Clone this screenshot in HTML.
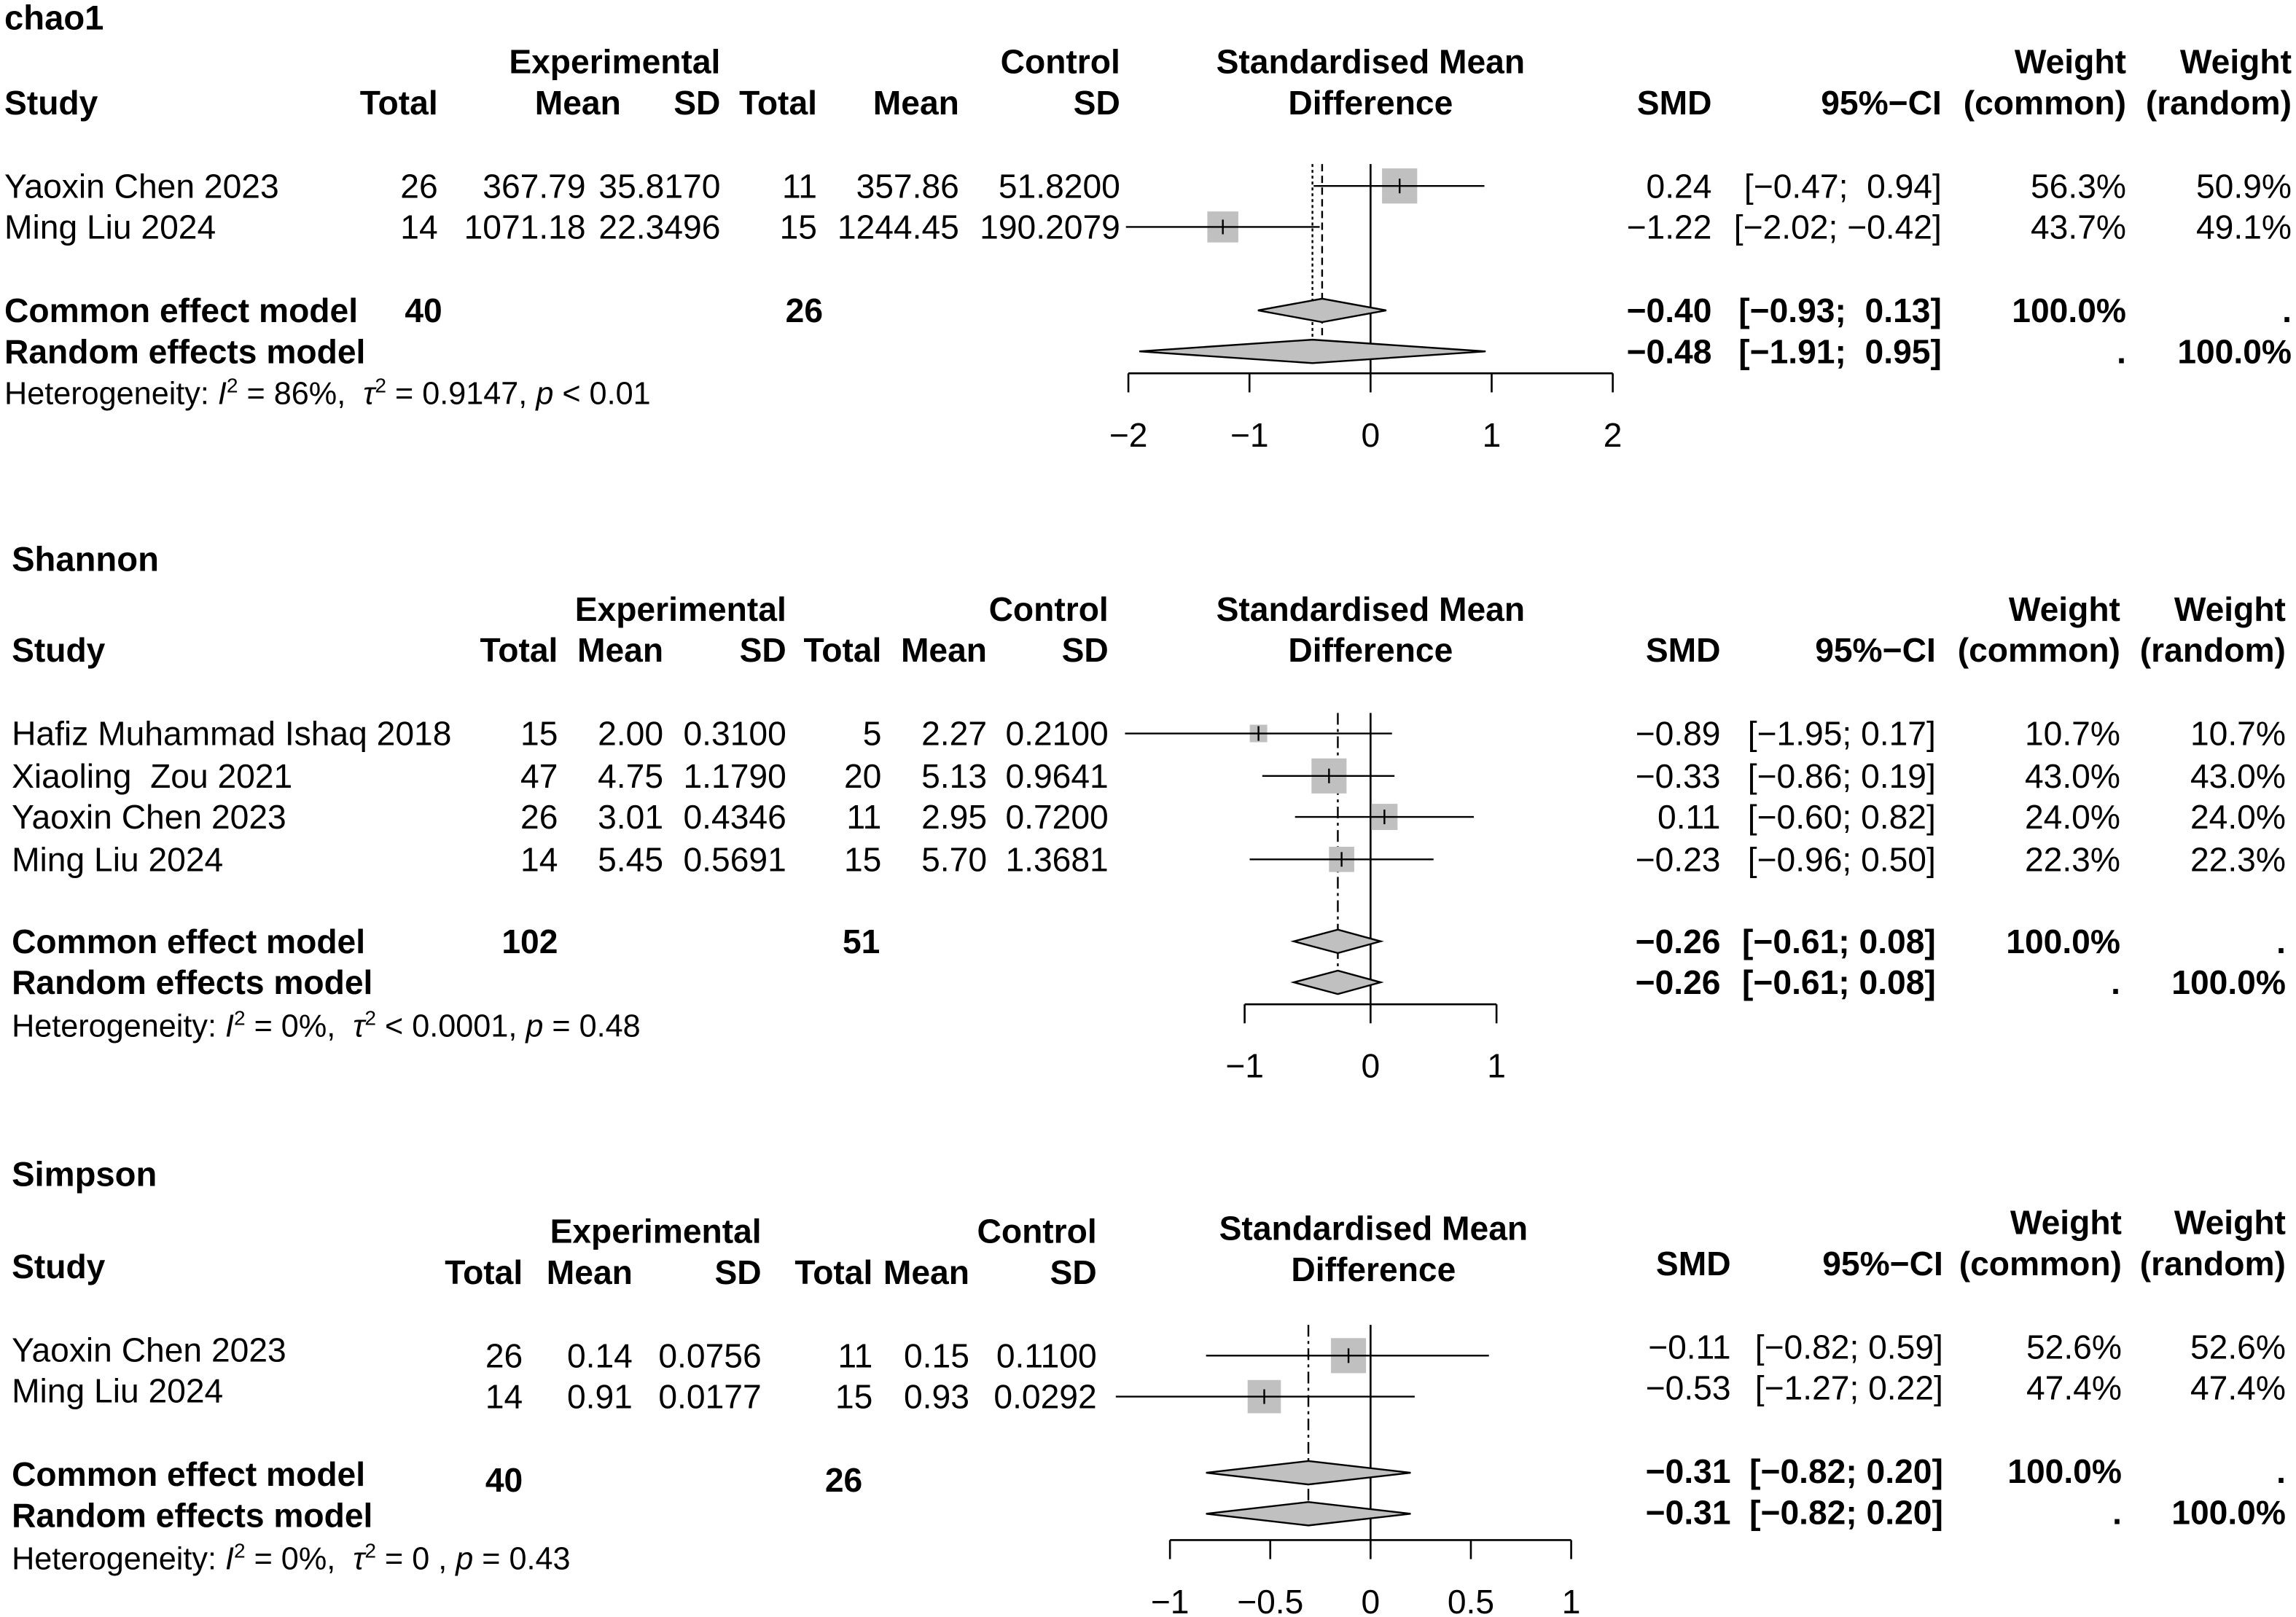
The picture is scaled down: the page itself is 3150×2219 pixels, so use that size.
<!DOCTYPE html>
<html><head><meta charset="utf-8"><style>
html,body{margin:0;padding:0;background:#fff}
svg{display:block}
text{font-family:"Liberation Sans",Arial,sans-serif;font-size:23px;fill:#000;white-space:pre}
.b{font-weight:bold;font-size:23.5px}
.h{font-size:21.5px}
</style></head><body>
<svg id="svg" xmlns="http://www.w3.org/2000/svg" width="3150" height="2219" viewBox="0 0 1568 1104.5">
<g id="txt">
<!-- chao1 -->
<text x="3" y="20" class="b">chao1</text>
<g class="b" text-anchor="end">
<text x="492" y="50">Experimental</text><text x="765" y="50">Control</text>
<text x="936" y="50" text-anchor="middle">Standardised Mean</text><text x="936" y="78" text-anchor="middle">Difference</text>
<text x="1452" y="50">Weight</text><text x="1565" y="50">Weight</text>
<text x="3" y="78" text-anchor="start">Study</text><text x="299" y="78">Total</text><text x="424" y="78">Mean</text><text x="492" y="78">SD</text>
<text x="558" y="78">Total</text><text x="655" y="78">Mean</text><text x="765" y="78">SD</text>
<text x="1169" y="78">SMD</text><text x="1326" y="78">95%−CI</text><text x="1452" y="78">(common)</text><text x="1565" y="78">(random)</text>
</g>
<g text-anchor="end">
<text x="3" y="135" text-anchor="start">Yaoxin Chen 2023</text><text x="299" y="135">26</text><text x="400" y="135">367.79</text><text x="492" y="135">35.8170</text><text x="558" y="135">11</text><text x="655" y="135">357.86</text><text x="765" y="135">51.8200</text><text x="1169" y="135">0.24</text><text x="1326" y="135">[−0.47;  0.94]</text><text x="1452" y="135">56.3%</text><text x="1565" y="135">50.9%</text>
<text x="3" y="163" text-anchor="start">Ming Liu 2024</text><text x="299" y="163">14</text><text x="400" y="163">1071.18</text><text x="492" y="163">22.3496</text><text x="558" y="163">15</text><text x="655" y="163">1244.45</text><text x="765" y="163">190.2079</text><text x="1169" y="163">−1.22</text><text x="1326" y="163">[−2.02; −0.42]</text><text x="1452" y="163">43.7%</text><text x="1565" y="163">49.1%</text>
</g>
<g class="b" text-anchor="end">
<text x="3" y="220" text-anchor="start">Common effect model</text><text x="302" y="220">40</text><text x="562" y="220">26</text><text x="1169" y="220">−0.40</text><text x="1326" y="220">[−0.93;  0.13]</text><text x="1452" y="220">100.0%</text><text x="1565" y="220">.</text>
<text x="3" y="248" text-anchor="start">Random effects model</text><text x="1169" y="248">−0.48</text><text x="1326" y="248">[−1.91;  0.95]</text><text x="1452" y="248">.</text><text x="1565" y="248">100.0%</text>
</g>
<text x="3" y="276" class="h">Heterogeneity: <tspan font-style="italic">I</tspan><tspan dy="-8" font-size="14">2</tspan><tspan dy="8"> = 86%,  </tspan><tspan font-style="italic">τ</tspan><tspan dy="-8" font-size="14">2</tspan><tspan dy="8"> = 0.9147, </tspan><tspan font-style="italic">p</tspan> &lt; 0.01</text>

<!-- Shannon -->
<text x="8" y="390" class="b">Shannon</text>
<g class="b" text-anchor="end">
<text x="537" y="424">Experimental</text><text x="757" y="424">Control</text>
<text x="936" y="424" text-anchor="middle">Standardised Mean</text><text x="936" y="452" text-anchor="middle">Difference</text>
<text x="1448" y="424">Weight</text><text x="1561" y="424">Weight</text>
<text x="8" y="452" text-anchor="start">Study</text><text x="381" y="452">Total</text><text x="453" y="452">Mean</text><text x="537" y="452">SD</text>
<text x="602" y="452">Total</text><text x="674" y="452">Mean</text><text x="757" y="452">SD</text>
<text x="1175" y="452">SMD</text><text x="1322" y="452">95%−CI</text><text x="1448" y="452">(common)</text><text x="1561" y="452">(random)</text>
</g>
<g text-anchor="end">
<text x="8" y="509" text-anchor="start">Hafiz Muhammad Ishaq 2018</text><text x="381" y="509">15</text><text x="453" y="509">2.00</text><text x="537" y="509">0.3100</text><text x="602" y="509">5</text><text x="674" y="509">2.27</text><text x="757" y="509">0.2100</text><text x="1175" y="509">−0.89</text><text x="1322" y="509">[−1.95; 0.17]</text><text x="1448" y="509">10.7%</text><text x="1561" y="509">10.7%</text>
<text x="8" y="538" text-anchor="start">Xiaoling  Zou 2021</text><text x="381" y="538">47</text><text x="453" y="538">4.75</text><text x="537" y="538">1.1790</text><text x="602" y="538">20</text><text x="674" y="538">5.13</text><text x="757" y="538">0.9641</text><text x="1175" y="538">−0.33</text><text x="1322" y="538">[−0.86; 0.19]</text><text x="1448" y="538">43.0%</text><text x="1561" y="538">43.0%</text>
<text x="8" y="566" text-anchor="start">Yaoxin Chen 2023</text><text x="381" y="566">26</text><text x="453" y="566">3.01</text><text x="537" y="566">0.4346</text><text x="602" y="566">11</text><text x="674" y="566">2.95</text><text x="757" y="566">0.7200</text><text x="1175" y="566">0.11</text><text x="1322" y="566">[−0.60; 0.82]</text><text x="1448" y="566">24.0%</text><text x="1561" y="566">24.0%</text>
<text x="8" y="595" text-anchor="start">Ming Liu 2024</text><text x="381" y="595">14</text><text x="453" y="595">5.45</text><text x="537" y="595">0.5691</text><text x="602" y="595">15</text><text x="674" y="595">5.70</text><text x="757" y="595">1.3681</text><text x="1175" y="595">−0.23</text><text x="1322" y="595">[−0.96; 0.50]</text><text x="1448" y="595">22.3%</text><text x="1561" y="595">22.3%</text>
</g>
<g class="b" text-anchor="end">
<text x="8" y="651" text-anchor="start">Common effect model</text><text x="381" y="651">102</text><text x="601" y="651">51</text><text x="1175" y="651">−0.26</text><text x="1322" y="651">[−0.61; 0.08]</text><text x="1448" y="651">100.0%</text><text x="1561" y="651">.</text>
<text x="8" y="679" text-anchor="start">Random effects model</text><text x="1175" y="679">−0.26</text><text x="1322" y="679">[−0.61; 0.08]</text><text x="1448" y="679">.</text><text x="1561" y="679">100.0%</text>
</g>
<text x="8" y="708" class="h">Heterogeneity: <tspan font-style="italic">I</tspan><tspan dy="-8" font-size="14">2</tspan><tspan dy="8"> = 0%,  </tspan><tspan font-style="italic">τ</tspan><tspan dy="-8" font-size="14">2</tspan><tspan dy="8"> &lt; 0.0001, </tspan><tspan font-style="italic">p</tspan> = 0.48</text>

<!-- Simpson -->
<text x="8" y="810" class="b">Simpson</text>
<g class="b" text-anchor="end">
<text x="520" y="849">Experimental</text><text x="749" y="849">Control</text>
<text x="938" y="847" text-anchor="middle">Standardised Mean</text><text x="938" y="875" text-anchor="middle">Difference</text>
<text x="1449" y="843">Weight</text><text x="1561" y="843">Weight</text>
<text x="8" y="873" text-anchor="start">Study</text><text x="357" y="877">Total</text><text x="432" y="877">Mean</text><text x="520" y="877">SD</text>
<text x="596" y="877">Total</text><text x="662" y="877">Mean</text><text x="749" y="877">SD</text>
<text x="1182" y="871">SMD</text><text x="1327" y="871">95%−CI</text><text x="1449" y="871">(common)</text><text x="1561" y="871">(random)</text>
</g>
<g text-anchor="end">
<text x="8" y="930" text-anchor="start">Yaoxin Chen 2023</text><text x="357" y="934">26</text><text x="432" y="934">0.14</text><text x="520" y="934">0.0756</text><text x="596" y="934">11</text><text x="662" y="934">0.15</text><text x="749" y="934">0.1100</text><text x="1182" y="928">−0.11</text><text x="1327" y="928">[−0.82; 0.59]</text><text x="1449" y="928">52.6%</text><text x="1561" y="928">52.6%</text>
<text x="8" y="958" text-anchor="start">Ming Liu 2024</text><text x="357" y="962">14</text><text x="432" y="962">0.91</text><text x="520" y="962">0.0177</text><text x="596" y="962">15</text><text x="662" y="962">0.93</text><text x="749" y="962">0.0292</text><text x="1182" y="956">−0.53</text><text x="1327" y="956">[−1.27; 0.22]</text><text x="1449" y="956">47.4%</text><text x="1561" y="956">47.4%</text>
</g>
<g class="b" text-anchor="end">
<text x="8" y="1015" text-anchor="start">Common effect model</text><text x="357" y="1019">40</text><text x="589" y="1019">26</text><text x="1182" y="1013">−0.31</text><text x="1327" y="1013">[−0.82; 0.20]</text><text x="1449" y="1013">100.0%</text><text x="1561" y="1013">.</text>
<text x="8" y="1043" text-anchor="start">Random effects model</text><text x="1182" y="1041">−0.31</text><text x="1327" y="1041">[−0.82; 0.20]</text><text x="1449" y="1041">.</text><text x="1561" y="1041">100.0%</text>
</g>
<text x="8" y="1072" class="h">Heterogeneity: <tspan font-style="italic">I</tspan><tspan dy="-8" font-size="14">2</tspan><tspan dy="8"> = 0%,  </tspan><tspan font-style="italic">τ</tspan><tspan dy="-8" font-size="14">2</tspan><tspan dy="8"> = 0 , </tspan><tspan font-style="italic">p</tspan> = 0.43</text>
</g>
<g id="plots"></g>
</svg>
<script>
// chao1
const chaoSMD=[0.24,-1.22], chaoLo=[-0.47,-2.02], chaoHi=[0.94,-0.42], chaoW=[56.3,43.7];
const chaoCommon=[-0.40,-0.93,0.13], chaoRandom=[-0.48,-1.91,0.95];
const chaoTicks=[-2,-1,0,1,2], chaoTickLabels=["−2","−1","0","1","2"];
// Shannon
const shanSMD=[-0.89,-0.33,0.11,-0.23], shanLo=[-1.95,-0.86,-0.60,-0.96], shanHi=[0.17,0.19,0.82,0.50], shanW=[10.7,43.0,24.0,22.3];
const shanCommon=[-0.26,-0.61,0.08], shanRandom=[-0.26,-0.61,0.08];
const shanTicks=[-1,0,1], shanTickLabels=["−1","0","1"];
// Simpson
const simpSMD=[-0.11,-0.53], simpLo=[-0.82,-1.27], simpHi=[0.59,0.22], simpW=[52.6,47.4];
const simpCommon=[-0.31,-0.82,0.20], simpRandom=[-0.31,-0.82,0.20];
const simpTicks=[-1,-0.5,0,0.5,1], simpTickLabels=["−1","−0.5","0","0.5","1"];

const NS="http://www.w3.org/2000/svg";
const root=document.getElementById('plots');
function mk(tag,attrs,parent){const e=document.createElementNS(NS,tag);for(const k in attrs)e.setAttribute(k,attrs[k]);parent.appendChild(e);return e;}

function panel(name,cfg,smd,lo,hi,w,common,random,ticks,labels){
  const g=mk('g',{},root);
  
  
  const clipL=cfg.clipL, clipR=cfg.clipR;
  const sx=v=>cfg.x0+v*cfg.ppu;
  const cx=v=>Math.max(clipL,Math.min(clipR,sx(v)));
  const z=mk('line',{x1:sx(0),x2:sx(0),y1:cfg.top,y2:cfg.axisY,stroke:'#000','stroke-width':1.3},g);
  
  
  const cl=mk('line',{x1:sx(common[0]),x2:sx(common[0]),y1:cfg.top,y2:cfg.diaY[1]+8,stroke:'#000','stroke-width':1.2,'stroke-dasharray':cfg.dashC},g);
  
  
  if(cfg.dashR){
    const rl=mk('line',{x1:sx(random[0]),x2:sx(random[0]),y1:cfg.top,y2:cfg.diaY[1]+8,stroke:'#000','stroke-width':1.2,'stroke-dasharray':cfg.dashR},g);
    
    
  }
  for(let i=0;i<smd.length;i++){
    const y=cfg.rowY[i];
    const s=cfg.boxK*Math.sqrt(w[i]);
    const b=mk('rect',{x:sx(smd[i])-s/2,y:y-s/2,width:s,height:s,fill:'#c0c0c0'},g);
    
    
    const l=mk('line',{x1:cx(lo[i]),x2:cx(hi[i]),y1:y,y2:y,stroke:'#000','stroke-width':1.2},g);
    
    
    const t=mk('line',{x1:sx(smd[i]),x2:sx(smd[i]),y1:y-5,y2:y+5,stroke:'#000','stroke-width':1.2},g);
    
    
  }
  [common,random].forEach((d,k)=>{
    const y=cfg.diaY[k];
    const p=mk('polygon',{points:`${sx(d[1])},${y} ${sx(d[0])},${y-8} ${sx(d[2])},${y} ${sx(d[0])},${y+8}`,fill:'#c0c0c0',stroke:'#000','stroke-width':1.2},g);
    
    
  });
  const ax=mk('line',{x1:sx(ticks[0]),x2:sx(ticks[ticks.length-1]),y1:cfg.axisY,y2:cfg.axisY,stroke:'#000','stroke-width':1.3},g);
  
  
  ticks.forEach((v,i)=>{
    const tk=mk('line',{x1:sx(v),x2:sx(v),y1:cfg.axisY,y2:cfg.axisY+13,stroke:'#000','stroke-width':1.3},g);
    
    
    const tl=mk('text',{x:sx(v),y:cfg.axisY+50,'text-anchor':'middle'},g);
    tl.textContent=labels[i];
    
    
  });
}
panel('chao1',{x0:936,ppu:82.7,top:112,axisY:255,rowY:[127,155],diaY:[212,240],boxK:3.2,dashC:'5,3',dashR:'2,2',clipL:765,clipR:1102},
  chaoSMD,chaoLo,chaoHi,chaoW,chaoCommon,chaoRandom,chaoTicks,chaoTickLabels);
panel('shannon',{x0:936,ppu:86,top:487,axisY:686,rowY:[501,530,558,587],diaY:[643,671],boxK:3.65,dashC:'8,3,2,3',dashR:null,clipL:765,clipR:1102},
  shanSMD,shanLo,shanHi,shanW,shanCommon,shanRandom,shanTicks,shanTickLabels);
panel('simpson',{x0:936,ppu:137,top:905,axisY:1052,rowY:[926,954],diaY:[1006,1034],boxK:3.3,dashC:'8,3,2,3',dashR:null,clipL:762,clipR:1102},
  simpSMD,simpLo,simpHi,simpW,simpCommon,simpRandom,simpTicks,simpTickLabels);
</script>
</body></html>
